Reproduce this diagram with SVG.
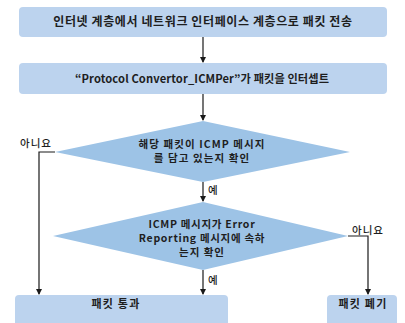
<svg xmlns="http://www.w3.org/2000/svg" width="405" height="323" viewBox="0 0 405 323">
<style>
.box{fill:#bcd3ee;stroke:none}
.dia{fill:#9dc3e6;stroke:none}
.t{font-family:"Noto Sans CJK KR","Noto Sans",sans-serif;font-weight:bold;fill:#1e1e1e;text-anchor:middle}
.lb{font-family:"Noto Sans CJK KR","Noto Sans",sans-serif;font-weight:500;fill:#1e1e1e;font-size:10.5px;letter-spacing:1px}
.c{fill:none;stroke:#1a1a1a;stroke-width:1.2}
</style>
<defs>
<marker id="ah" markerWidth="6" markerHeight="6" refX="5" refY="3" orient="auto" markerUnits="userSpaceOnUse">
<path d="M0,0 L6,3 L0,6 z" fill="#1a1a1a"/>
</marker>
</defs>
<rect width="405" height="323" fill="#ffffff"/>
<g id="n1">
<rect class="box" x="19" y="7" width="368" height="30" rx="4"/>
<text class="t" x="203" y="26" font-size="12" letter-spacing="0.6">인터넷 계층에서 네트워크 인터페이스 계층으로 패킷 전송</text>
</g>
<g id="n2">
<rect class="box" x="19" y="63" width="368" height="31" rx="4"/>
<text class="t" x="202" y="83" font-size="11.2" letter-spacing="0.1">“Protocol Convertor_ICMPer”가 패킷을 인터셉트</text>
</g>
<g id="d1">
<polygon class="dia" points="203,121 350,152 203,182 55,152"/>
<text class="t" x="202" y="148" font-size="10.5" letter-spacing="1.1">해당 패킷이 ICMP 메시지</text>
<text class="t" x="202" y="162" font-size="10.5" letter-spacing="1.1">를 담고 있는지 확인</text>
</g>
<g id="d2">
<polygon class="dia" points="203,202 348,236 203,270 53,236"/>
<text class="t" x="202" y="228" font-size="10.5" letter-spacing="0.7">ICMP 메시지가 Error</text>
<text class="t" x="202" y="242" font-size="10.5" letter-spacing="0.7">Reporting 메시지에 속하</text>
<text class="t" x="202" y="256" font-size="10.5" letter-spacing="1">는지 확인</text>
</g>
<g id="n3">
<rect class="box" x="15" y="295" width="213" height="40" rx="4"/>
<text class="t" x="116" y="308" font-size="11" letter-spacing="1.2">패킷 통과</text>
</g>
<g id="n4">
<rect class="box" x="327" y="295" width="70" height="40" rx="4"/>
<text class="t" x="363" y="308" font-size="11" letter-spacing="1.2">패킷 폐기</text>
</g>
<g id="connectors">
<line class="c" x1="203" y1="37" x2="203" y2="62" marker-end="url(#ah)"/>
<line class="c" x1="203" y1="94" x2="203" y2="120" marker-end="url(#ah)"/>
<line class="c" x1="203" y1="182" x2="203" y2="201" marker-end="url(#ah)"/>
<line class="c" x1="203" y1="270" x2="203" y2="294" marker-end="url(#ah)"/>
<polyline class="c" points="55,152 39,152 39,294" marker-end="url(#ah)"/>
<polyline class="c" points="348,236 368,236 368,294" marker-end="url(#ah)"/>
<text class="lb" x="20" y="147">아니요</text>
<text class="lb" x="208" y="194">예</text>
<text class="lb" x="208" y="284">예</text>
<text class="lb" x="352" y="234">아니요</text>
</g>
</svg>
